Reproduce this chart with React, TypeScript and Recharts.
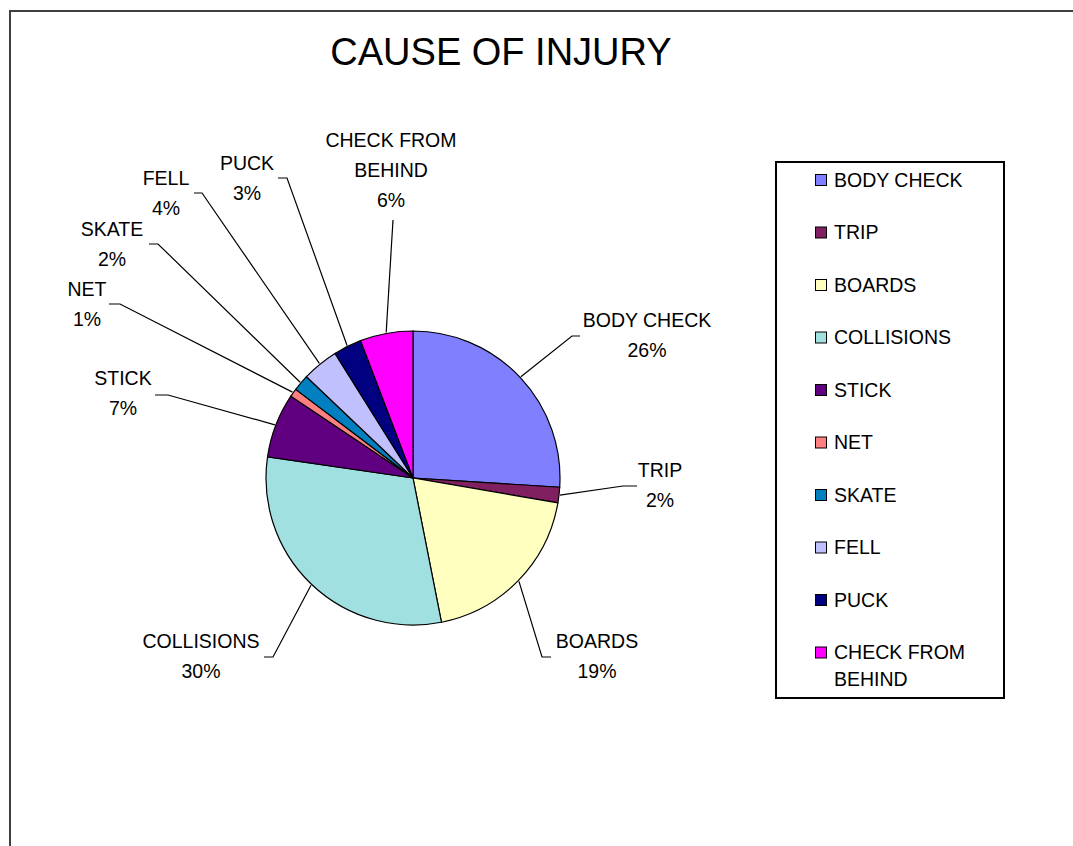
import React from "react";
import { PieChart, Pie, Cell } from "recharts";

const CATEGORIES = [
  "BODY CHECK",
  "TRIP",
  "BOARDS",
  "COLLISIONS",
  "STICK",
  "NET",
  "SKATE",
  "FELL",
  "PUCK",
  "CHECK FROM BEHIND",
];

// share of injuries, percent
const SHARES = [26.0, 1.7, 19.2, 30.4, 7.1, 0.9, 1.8, 4.0, 3.1, 5.8];

const COLORS = [
  "#8080FF",
  "#802060",
  "#FFFFC0",
  "#A0E0E0",
  "#600080",
  "#FF8080",
  "#0080C0",
  "#C0C0FF",
  "#000080",
  "#FF00FF",
];

// label placement relative to pie centre: text centre x / first baseline,
// elbow of the leader line, and the little horizontal tick
const LABEL_LAYOUT = [
  { tx: 234, ty: -151, ex: 159, ey: -142, tick: 8 },
  { tx: 247, ty: -1, ex: 210, ey: 8, tick: 14 },
  { tx: 184, ty: 170, ex: 129, ey: 179, tick: 9 },
  { tx: -212, ty: 170, ex: -140, ey: 179, tick: -9 },
  { tx: -290, ty: -93, ex: -245, ey: -83, tick: -13 },
  { tx: -326, ty: -182, ex: -293, ey: -174, tick: -11 },
  { tx: -301, ty: -242, ex: -255, ey: -234, tick: -9 },
  { tx: -247, ty: -293, ex: -211, ey: -285, tick: -8 },
  { tx: -166, ty: -308, ex: -126, ey: -300, tick: -9 },
  { tx: -22, ty: -331, ex: -20, ey: -258, tick: 0 },
];

const FONT = "'Liberation Sans', Arial, sans-serif";
const RADIAN = Math.PI / 180;

const data = CATEGORIES.map((name, i) => ({ name, value: SHARES[i] }));

function wrap(name: string): string[] {
  if (name.length <= 12) return [name];
  const cut = name.lastIndexOf(" ");
  return [name.slice(0, cut), name.slice(cut + 1)];
}

const renderLabel = (props: any) => {
  const { cx, cy, midAngle, outerRadius, percent, index, name } = props;
  const lay = LABEL_LAYOUT[index];
  if (!lay) return null;
  const r = outerRadius + 1;
  const sx = cx + r * Math.cos(-midAngle * RADIAN);
  const sy = cy + r * Math.sin(-midAngle * RADIAN);
  const ex = cx + lay.ex;
  const ey = cy + lay.ey;
  const pts = `${sx},${sy} ${ex},${ey} ${ex + lay.tick},${ey}`;
  const lines = [...wrap(name), `${Math.round(percent * 100)}%`];
  return (
    <g key={`lbl-${index}`}>
      <polyline points={pts} fill="none" stroke="#000" strokeWidth={1.2} />
      {lines.map((t, j) => (
        <text
          key={j}
          x={cx + lay.tx}
          y={cy + lay.ty + j * 30}
          textAnchor="middle"
          fontFamily={FONT}
          fontSize={19.5}
          fill="#000"
        >
          {t}
        </text>
      ))}
    </g>
  );
};

function LegendBox() {
  return (
    <svg
      width={230}
      height={538}
      style={{ position: "absolute", left: 775, top: 161 }}
    >
      <rect x={1} y={1} width={228} height={536} fill="#fff" stroke="#000" strokeWidth={2} />
      {CATEGORIES.map((name, i) => {
        const base = 25.7 + i * 52.5;
        return (
          <g key={name}>
            <rect
              x={40.5}
              y={base - 12.2}
              width={11}
              height={11}
              fill={COLORS[i]}
              stroke="#000"
              strokeWidth={1}
            />
            {wrap(name).map((t, j) => (
              <text
                key={j}
                x={59}
                y={base + j * 27}
                fontFamily={FONT}
                fontSize={19.5}
                fill="#000"
              >
                {t}
              </text>
            ))}
          </g>
        );
      })}
    </svg>
  );
}

export default function App() {
  return (
    <div
      style={{
        position: "absolute",
        left: 0,
        top: 0,
        width: 1073,
        height: 846,
        background: "#fff",
        overflow: "hidden",
      }}
    >
      <div
        style={{
          position: "absolute",
          left: 9,
          top: 10,
          width: 1064,
          height: 836,
          borderTop: "2px solid #404040",
          borderLeft: "2px solid #404040",
        }}
      />
      <svg
        width={1073}
        height={80}
        style={{ position: "absolute", left: 0, top: 0 }}
      >
        <text
          x={501}
          y={65}
          textAnchor="middle"
          fontFamily={FONT}
          fontSize={38}
          fill="#000"
        >
          CAUSE OF INJURY
        </text>
      </svg>
      <div style={{ position: "absolute", left: 0, top: 0 }}>
        <PieChart
          width={1073}
          height={846}
          margin={{ top: 0, right: 0, bottom: 0, left: 0 }}
        >
          <Pie
            data={data}
            dataKey="value"
            nameKey="name"
            cx={413}
            cy={478}
            outerRadius={147}
            startAngle={90}
            endAngle={-270}
            stroke="#000"
            strokeWidth={1.2}
            label={renderLabel}
            labelLine={false}
            isAnimationActive={false}
          >
            {data.map((entry, index) => (
              <Cell key={`cell-${index}`} fill={COLORS[index]} />
            ))}
          </Pie>
        </PieChart>
      </div>
      <LegendBox />
    </div>
  );
}
